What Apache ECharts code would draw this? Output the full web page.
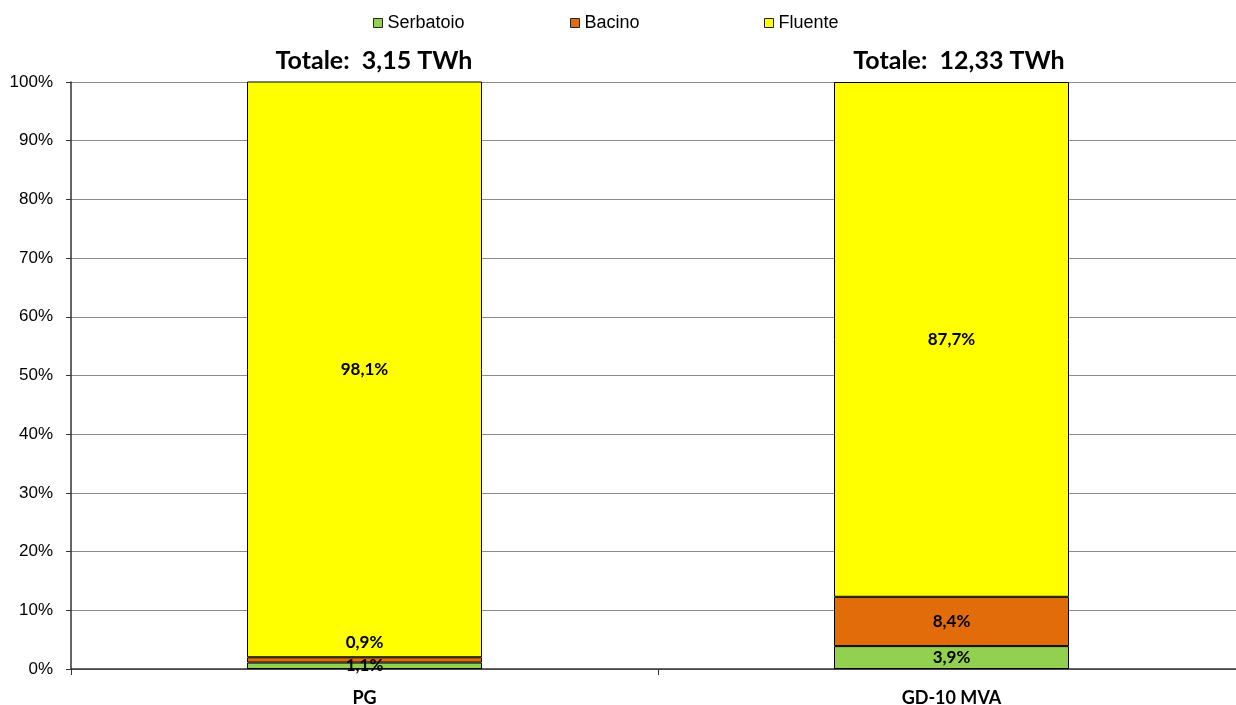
<!DOCTYPE html>
<html>
<head>
<meta charset="utf-8">
<script src="https://cdn.jsdelivr.net/npm/echarts@6/dist/echarts.min.js"></script>
<style>html,body{margin:0;padding:0;background:#fff}#c{width:1236px;height:705px}</style>
</head>
<body>
<div id="c"></div>
<script>
const categories = ['PG', 'GD-10 MVA'];
const totals = ['Totale:  3,15 TWh', 'Totale:  12,33 TWh'];
const serbatoio = [1.1, 3.9];
const bacino = [0.9, 8.4];
const fluente = [98.1, 87.7];
const yTicks = [0, 10, 20, 30, 40, 50, 60, 70, 80, 90, 100];

const chart = echarts.init(document.getElementById('c'), null, {renderer: 'canvas'});
const fmt = p => p.value.toFixed(1).replace('.', ',') + '%';
const labelFont = {show: true, formatter: fmt, fontFamily: 'Lato', fontWeight: 'bold', fontSize: 17, color: '#000'};
const bw = 235;
const legendCommon = {top: 9, itemWidth: 9, itemHeight: 9, icon: 'rect', itemGap: 4,
  textStyle: {fontFamily: 'Liberation Sans', fontSize: 18, color: '#000', padding: [0,0,0,0]},
  itemStyle: {borderColor: '#222', borderWidth: 1}, selectedMode: false};
const titleStyle = {fontFamily: 'Lato', fontWeight: 'bold', fontSize: 25, color: '#000', whiteSpace: 'pre'};
chart.setOption({
  animation: false,
  title: [
    {text: totals[0], left: 369, top: 43, textAlign: 'center', textStyle: titleStyle},
    {text: totals[1], left: 954, top: 43, textAlign: 'center', textStyle: titleStyle}
  ],
  legend: [
    Object.assign({}, legendCommon, {left: 368, data: ['Serbatoio']}),
    Object.assign({}, legendCommon, {left: 565, data: ['Bacino']}),
    Object.assign({}, legendCommon, {left: 759, data: ['Fluente']})
  ],
  grid: {left: 71, width: 1174, top: 82, height: 587, containLabel: false, outerBoundsMode: 'none'},
  xAxis: {
    type: 'category', data: categories,
    axisLine: {lineStyle: {color: '#333', width: 1.5}},
    axisTick: {show: true, length: 6, lineStyle: {color: '#333'}},
    axisLabel: {fontFamily: 'Lato', fontWeight: 'bold', fontSize: 18, color: '#000', margin: 20}
  },
  yAxis: {
    type: 'value', min: 0, max: 100, interval: 10,
    axisLine: {show: true, lineStyle: {color: '#333', width: 1.5}},
    axisTick: {show: true, length: 5, lineStyle: {color: '#333'}},
    axisLabel: {formatter: v => yTicks.indexOf(v) >= 0 ? v + '%' : '', fontFamily: 'Liberation Sans', fontSize: 17, color: '#000', margin: 18},
    splitLine: {show: true, lineStyle: {color: '#8c8c8c', width: 1}}
  },
  series: [
    {name: 'Serbatoio', type: 'bar', stack: 's', data: serbatoio, barWidth: bw,
     itemStyle: {color: '#92D050', borderColor: '#000', borderWidth: 1},
     label: Object.assign({}, labelFont, {position: 'inside'})},
    {name: 'Bacino', type: 'bar', stack: 's', data: bacino, barWidth: bw,
     itemStyle: {color: '#E36C0A', borderColor: '#000', borderWidth: 1},
     label: Object.assign({}, labelFont, {position: 'inside'}),
     labelLayout: function (p) { return p.dataIndex === 0 ? {dy: -17} : {}; }},
    {name: 'Fluente', type: 'bar', stack: 's', data: fluente, barWidth: bw,
     itemStyle: {color: '#FFFF00', borderColor: '#000', borderWidth: 1},
     label: Object.assign({}, labelFont, {position: 'inside'})}
  ]
});
</script>
</body>
</html>
